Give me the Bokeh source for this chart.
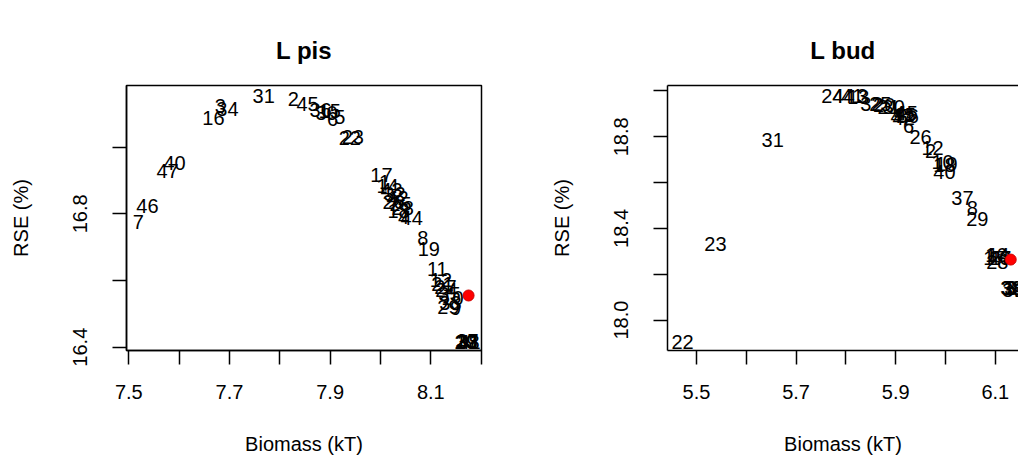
from bokeh.plotting import figure
from bokeh.models import FixedTicker, PrintfTickFormatter, LinearAxis, ColumnDataSource, Range1d
from bokeh.layouts import row
from bokeh.core.properties import value
from bokeh.embed import file_html
from bokeh.resources import INLINE

FONT = "Liberation Sans"

# ---- L pis ----
pis_labels = ["7", "46", "47", "40", "16", "3", "34", "31", "2", "45", "36", "30", "15", "6", "5",
              "22", "23", "17", "1", "14", "43", "32", "42", "26", "25", "28", "18", "4", "44",
              "8", "19", "11", "12", "21", "27", "24", "35", "10", "33", "29", "9",
              "39", "38", "20", "37", "41", "13"]
pis_biomass = [7.519, 7.537, 7.577, 7.591, 7.668, 7.682, 7.696, 7.768, 7.827, 7.855, 7.881, 7.893, 7.899, 7.905, 7.919,
               7.939, 7.945, 8.002, 8.008, 8.014, 8.022, 8.028, 8.034, 8.026, 8.040, 8.044, 8.036, 8.046, 8.062,
               8.084, 8.096, 8.113, 8.120, 8.123, 8.129, 8.131, 8.137, 8.143, 8.139, 8.135, 8.149,
               8.171, 8.175, 8.169, 8.173, 8.177, 8.171]
pis_rse = [16.777, 16.825, 16.930, 16.954, 17.089, 17.125, 17.116, 17.155, 17.146, 17.131, 17.113, 17.104, 17.110, 17.086, 17.092,
           17.029, 17.032, 16.918, 16.897, 16.885, 16.873, 16.861, 16.849, 16.837, 16.831, 16.819, 16.810, 16.792, 16.789,
           16.729, 16.696, 16.636, 16.603, 16.591, 16.582, 16.573, 16.561, 16.549, 16.534, 16.522, 16.519,
           16.417, 16.417, 16.417, 16.420, 16.417, 16.420]
pis_best_biomass = [8.175]
pis_best_rse = [16.555]

# ---- L bud ----
bud_labels = ["22", "23", "31", "24", "44", "41", "13", "3", "32", "25", "20", "21", "30", "4", "47", "15",
              "42", "45", "36", "6", "26", "12", "2", "10", "19", "18", "40", "37", "8", "29",
              "16", "46", "28", "27", "14", "17",
              "33", "38", "39", "34", "35", "1", "5", "7", "9", "11", "43"]
bud_biomass = [5.472, 5.538, 5.653, 5.773, 5.795, 5.813, 5.825, 5.833, 5.851, 5.869, 5.877, 5.886, 5.896, 5.908, 5.912, 5.918,
               5.916, 5.922, 5.924, 5.926, 5.950, 5.974, 5.970, 5.994, 6.002, 5.998, 5.998, 6.034, 6.054, 6.064,
               6.102, 6.108, 6.104, 6.110, 6.106, 6.098,
               6.1325, 6.1345, 6.1365, 6.1405, 6.1446, 6.1486, 6.1546, 6.1606, 6.1667, 6.1727, 6.1787]
bud_rse = [17.902, 18.334, 18.788, 18.976, 18.976, 18.976, 18.972, 18.976, 18.945, 18.945, 18.941, 18.932, 18.928, 18.902, 18.893, 18.897,
           18.884, 18.906, 18.889, 18.849, 18.797, 18.753, 18.740, 18.688, 18.683, 18.675, 18.648, 18.535, 18.487, 18.443,
           18.286, 18.273, 18.255, 18.269, 18.282, 18.269,
           18.138, 18.138, 18.133, 18.138, 18.138, 18.133, 18.133, 18.133, 18.133, 18.133, 18.133]
bud_best_biomass = [6.131]
bud_best_rse = [18.264]

pis_xmajor = [7.5, 7.7, 7.9, 8.1]
pis_xminor = [7.6, 7.8, 8.0, 8.2]
pis_ymajor = [16.4, 16.8]
pis_yminor = [16.6, 17.0]
bud_xmajor = [5.5, 5.7, 5.9, 6.1]
bud_xminor = [5.6, 5.8, 6.0]
bud_ymajor = [18.0, 18.4, 18.8]
bud_yminor = [18.2, 18.6, 19.0]


def style_axis(ax, major, minor, label_standoff, title_standoff):
    ax.ticker = FixedTicker(ticks=major, minor_ticks=minor)
    ax.formatter = PrintfTickFormatter(format="%.1f")
    ax.axis_line_color = "black"
    ax.axis_line_width = 1.5
    ax.major_tick_line_color = "black"
    ax.major_tick_line_width = 1.5
    ax.minor_tick_line_color = "black"
    ax.minor_tick_line_width = 1.5
    ax.major_tick_in = 0
    ax.major_tick_out = 14
    ax.minor_tick_in = 0
    ax.minor_tick_out = 14
    ax.major_label_text_font = FONT
    ax.major_label_text_font_size = "20px"
    ax.major_label_text_color = "black"
    ax.major_label_standoff = label_standoff
    ax.axis_label_text_font = FONT
    ax.axis_label_text_font_size = "20px"
    ax.axis_label_text_font_style = "normal"
    ax.axis_label_text_color = "black"
    ax.axis_label_standoff = title_standoff


def make_panel(title, labels, xs, ys, bx, by, xr, yr, xmaj, xmin, ymaj, ymin,
               width, mb_left, mb_right, closed, title_standoff):
    p = figure(width=width, height=465, output_backend="svg", toolbar_location=None,
               x_range=Range1d(*xr), y_range=Range1d(*yr),
               min_border_left=mb_left, min_border_right=mb_right,
               min_border_top=85, min_border_bottom=115)
    p.grid.visible = False
    p.background_fill_color = "white"
    p.border_fill_color = "white"

    xax = p.below[0]
    yax = p.left[0]
    style_axis(xax, xmaj, xmin, 20, 31)
    style_axis(yax, ymaj, ymin, 25, 39)
    xax.axis_label = "Biomass (kT)"
    yax.axis_label = "RSE (%)"
    yax.major_label_orientation = "vertical"

    if closed:
        p.outline_line_color = "black"
        p.outline_line_width = 1.5
        p.outline_line_alpha = 1.0
    else:
        p.outline_line_color = None
        top = LinearAxis(ticker=FixedTicker(ticks=[]))
        top.axis_line_color = "black"
        top.axis_line_width = 1.5
        top.major_tick_line_color = None
        top.minor_tick_line_color = None
        top.major_tick_out = 0
        top.minor_tick_out = 0
        top.major_label_standoff = 0
        top.major_label_text_color = None
        p.add_layout(top, "above")

    p.title.text = title
    p.title.align = "center"
    p.title.text_font = FONT
    p.title.text_font_size = "24px"
    p.title.text_font_style = "bold"
    p.title.text_color = "black"
    p.title.standoff = title_standoff

    src = ColumnDataSource(dict(x=xs, y=ys, label=labels))
    p.text(x="x", y="y", text="label", source=src, text_align="center", text_baseline="middle",
           text_font=value(FONT), text_font_size="20px", text_color="black")
    p.scatter(x=bx, y=by, size=11, fill_color="red", line_color="#cc0000", line_width=1)
    return p


left = make_panel("L pis", pis_labels, pis_biomass, pis_rse, pis_best_biomass, pis_best_rse,
                  (7.4954, 8.2007), (16.390, 17.185), pis_xmajor, pis_xminor, pis_ymajor, pis_yminor,
                  511, 126, 30, True, 43)
right = make_panel("L bud", bud_labels, bud_biomass, bud_rse, bud_best_biomass, bud_best_rse,
                   (5.4418, 6.1466), (17.867, 19.024), bud_xmajor, bud_xminor, bud_ymajor, bud_yminor,
                   507, 156, 0, False, 43)

layout = row(left, right)
open("out.html", "w").write(file_html(layout, INLINE))
